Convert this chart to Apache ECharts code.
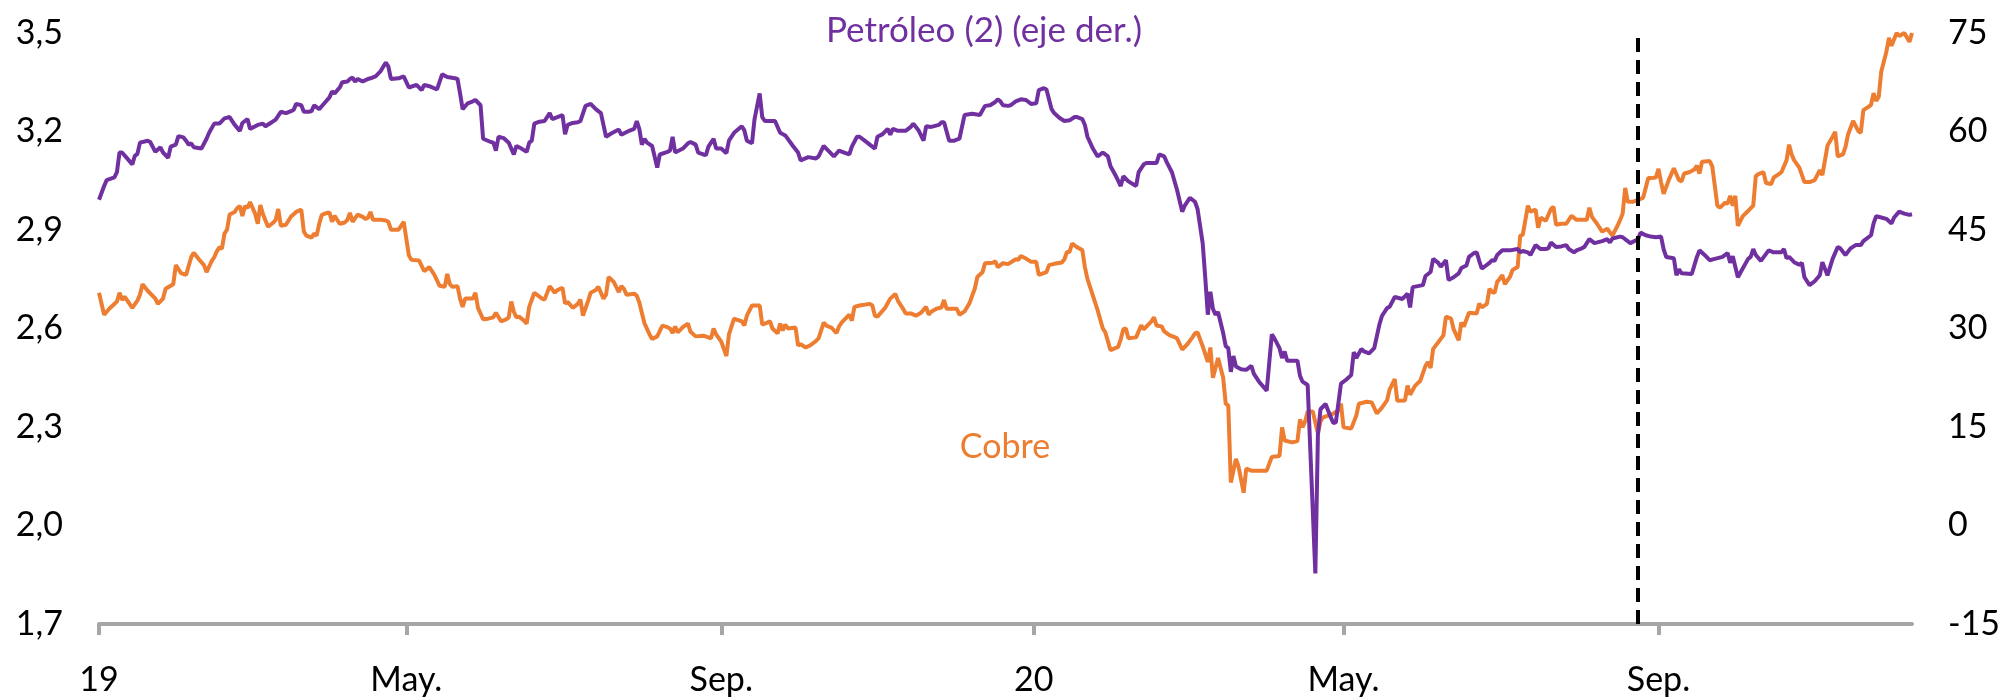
<!DOCTYPE html>
<html><head><meta charset="utf-8">
<script src="https://cdn.jsdelivr.net/npm/echarts@6/dist/echarts.min.js"></script>
<style>html,body{margin:0;padding:0;background:#fff}#c{width:2000px;height:700px}</style>
</head><body><div id="c"></div>
<script>
// ---- axis ticks / labels ----
const tickDates = ['2019-01-01','2019-05-01','2019-09-01','2020-01-01','2020-05-01','2020-09-01'];
const tickLabels = ['19','May.','Sep.','20','May.','Sep.'];
const leftTicks = [1.7, 2.0, 2.3, 2.6, 2.9, 3.2, 3.5];
const axisStart = '2019-01-01';
const axisEnd = '2020-12-09';
const markerDate = '2020-08-24';
const labelPetroleo = 'Petróleo (2) (eje der.)';
const labelCobre = 'Cobre';

// ---- Cobre (left axis) ----
const cobreDates = [
'2019-01-01','2019-01-03','2019-01-05','2019-01-08','2019-01-09','2019-01-10','2019-01-11','2019-01-14','2019-01-16','2019-01-17','2019-01-18','2019-01-20','2019-01-23','2019-01-24','2019-01-26','2019-01-27','2019-01-30','2019-01-31',
'2019-02-02','2019-02-04','2019-02-06','2019-02-07','2019-02-09','2019-02-11','2019-02-12','2019-02-14','2019-02-15','2019-02-16','2019-02-17','2019-02-18','2019-02-19','2019-02-20','2019-02-21','2019-02-23','2019-02-24','2019-02-25','2019-02-26','2019-02-27','2019-02-28',
'2019-03-01','2019-03-02','2019-03-03','2019-03-04','2019-03-05','2019-03-06','2019-03-08','2019-03-10','2019-03-11','2019-03-12','2019-03-13','2019-03-15','2019-03-17','2019-03-19','2019-03-21','2019-03-22','2019-03-23','2019-03-25','2019-03-26','2019-03-27','2019-03-28','2019-03-29','2019-03-31',
'2019-04-01','2019-04-02','2019-04-03','2019-04-05','2019-04-07','2019-04-08','2019-04-09','2019-04-10','2019-04-12','2019-04-14','2019-04-15','2019-04-16','2019-04-17','2019-04-18','2019-04-21','2019-04-23','2019-04-24','2019-04-25','2019-04-28','2019-04-30',
'2019-05-02','2019-05-03','2019-05-06','2019-05-08','2019-05-10','2019-05-12','2019-05-14','2019-05-16','2019-05-17','2019-05-18','2019-05-19','2019-05-21','2019-05-22','2019-05-23','2019-05-24','2019-05-27','2019-05-28','2019-05-29','2019-05-31',
'2019-06-02','2019-06-04','2019-06-05','2019-06-07','2019-06-09','2019-06-10','2019-06-11','2019-06-12','2019-06-13','2019-06-14','2019-06-16','2019-06-17','2019-06-18','2019-06-20','2019-06-23','2019-06-24','2019-06-26','2019-06-28','2019-06-29',
'2019-07-01','2019-07-02','2019-07-03','2019-07-05','2019-07-07','2019-07-08','2019-07-09','2019-07-11','2019-07-12','2019-07-14','2019-07-15','2019-07-17','2019-07-18','2019-07-19','2019-07-21','2019-07-23','2019-07-24','2019-07-25','2019-07-26','2019-07-29','2019-07-30','2019-07-31',
'2019-08-02','2019-08-04','2019-08-05','2019-08-07','2019-08-09','2019-08-11','2019-08-12','2019-08-13','2019-08-14','2019-08-15','2019-08-17','2019-08-19','2019-08-20','2019-08-22','2019-08-25','2019-08-28','2019-08-29','2019-08-30',
'2019-09-01','2019-09-03','2019-09-04','2019-09-06','2019-09-07','2019-09-09','2019-09-10','2019-09-11','2019-09-13','2019-09-16','2019-09-17','2019-09-19','2019-09-20','2019-09-21','2019-09-23','2019-09-24','2019-09-25','2019-09-26','2019-09-27','2019-09-30',
'2019-10-01','2019-10-02','2019-10-04','2019-10-06','2019-10-08','2019-10-09','2019-10-11','2019-10-12','2019-10-14','2019-10-16','2019-10-17','2019-10-18','2019-10-21','2019-10-22','2019-10-23','2019-10-25','2019-10-29','2019-10-30','2019-10-31',
'2019-11-01','2019-11-04','2019-11-06','2019-11-08','2019-11-09','2019-11-11','2019-11-12','2019-11-14','2019-11-16','2019-11-18','2019-11-20','2019-11-21','2019-11-22','2019-11-24','2019-11-26','2019-11-27','2019-11-28',
'2019-12-01','2019-12-02','2019-12-03','2019-12-05','2019-12-07','2019-12-08','2019-12-09','2019-12-10','2019-12-12','2019-12-13','2019-12-16','2019-12-17','2019-12-18','2019-12-20','2019-12-22','2019-12-25','2019-12-26','2019-12-27','2019-12-29','2019-12-31',
'2020-01-02','2020-01-03','2020-01-06','2020-01-07','2020-01-09','2020-01-12','2020-01-13','2020-01-14','2020-01-15','2020-01-16','2020-01-18','2020-01-20','2020-01-21','2020-01-22','2020-01-24','2020-01-26','2020-01-28','2020-01-29','2020-01-31',
'2020-02-03','2020-02-04','2020-02-05','2020-02-06','2020-02-07','2020-02-10','2020-02-12','2020-02-13','2020-02-14','2020-02-16','2020-02-17','2020-02-18','2020-02-20','2020-02-21','2020-02-23','2020-02-25','2020-02-26','2020-02-28',
'2020-03-01','2020-03-03','2020-03-04','2020-03-05','2020-03-07','2020-03-09','2020-03-10','2020-03-11','2020-03-12','2020-03-13','2020-03-15','2020-03-16','2020-03-17','2020-03-18','2020-03-20','2020-03-21','2020-03-23','2020-03-24','2020-03-26','2020-03-28','2020-03-31',
'2020-04-01','2020-04-03','2020-04-06','2020-04-07','2020-04-08','2020-04-11','2020-04-13','2020-04-14','2020-04-15','2020-04-16','2020-04-17','2020-04-19','2020-04-21','2020-04-22','2020-04-23','2020-04-25','2020-04-27','2020-04-29','2020-04-30',
'2020-05-01','2020-05-04','2020-05-06','2020-05-07','2020-05-10','2020-05-12','2020-05-14','2020-05-16','2020-05-18','2020-05-19','2020-05-21','2020-05-22','2020-05-25','2020-05-26','2020-05-27','2020-05-29','2020-05-31',
'2020-06-02','2020-06-03','2020-06-04','2020-06-05','2020-06-07','2020-06-09','2020-06-10','2020-06-12','2020-06-13','2020-06-15','2020-06-16','2020-06-17','2020-06-19','2020-06-22','2020-06-23','2020-06-24','2020-06-26','2020-06-27','2020-06-28','2020-06-29','2020-06-30',
'2020-07-01','2020-07-02','2020-07-03','2020-07-05','2020-07-06','2020-07-08','2020-07-09','2020-07-10','2020-07-12','2020-07-13','2020-07-15','2020-07-16','2020-07-17','2020-07-19','2020-07-21','2020-07-22','2020-07-23','2020-07-25','2020-07-27','2020-07-29','2020-07-31',
'2020-08-02','2020-08-04','2020-08-05','2020-08-06','2020-08-08','2020-08-10','2020-08-12','2020-08-14','2020-08-16','2020-08-17','2020-08-18','2020-08-19','2020-08-20','2020-08-22','2020-08-24','2020-08-26','2020-08-28','2020-08-29','2020-08-31',
'2020-09-01','2020-09-02','2020-09-03','2020-09-05','2020-09-07','2020-09-09','2020-09-10','2020-09-11','2020-09-13','2020-09-15','2020-09-16','2020-09-17','2020-09-18','2020-09-21','2020-09-22','2020-09-23','2020-09-24','2020-09-25','2020-09-27','2020-09-28','2020-09-29','2020-09-30',
'2020-10-01','2020-10-02','2020-10-04','2020-10-06','2020-10-08','2020-10-09','2020-10-10','2020-10-12','2020-10-13','2020-10-15','2020-10-16','2020-10-18','2020-10-19','2020-10-21','2020-10-22','2020-10-23','2020-10-24','2020-10-26','2020-10-28','2020-10-30',
'2020-11-01','2020-11-03','2020-11-04','2020-11-06','2020-11-08','2020-11-09','2020-11-10','2020-11-12','2020-11-13','2020-11-14','2020-11-16','2020-11-18','2020-11-19','2020-11-20','2020-11-22','2020-11-23','2020-11-24','2020-11-25','2020-11-26','2020-11-27','2020-11-29','2020-11-30',
'2020-12-01','2020-12-03','2020-12-04','2020-12-06','2020-12-08','2020-12-09'
];
const cobre = [
2.709,2.642,2.660,2.682,2.709,2.687,2.697,2.663,2.685,2.703,2.735,2.715,2.691,2.675,2.691,2.721,2.735,2.793,
2.769,2.763,2.817,2.831,2.811,2.793,2.772,2.805,2.817,2.835,2.847,2.843,2.889,2.901,2.947,2.955,2.967,2.973,2.943,2.973,2.967,
2.985,2.967,2.949,2.919,2.976,2.949,2.910,2.922,2.931,2.964,2.913,2.916,2.941,2.955,2.962,2.895,2.883,2.877,2.889,2.883,2.919,2.946,2.952,
2.953,2.925,2.943,2.919,2.923,2.931,2.952,2.925,2.947,2.940,2.934,2.937,2.955,2.931,2.931,2.929,2.925,2.901,2.901,2.925,
2.823,2.809,2.807,2.775,2.787,2.763,2.730,2.727,2.766,2.735,2.727,2.729,2.691,2.666,2.691,2.691,2.709,2.663,2.628,
2.630,2.634,2.648,2.622,2.628,2.634,2.682,2.651,2.634,2.636,2.624,2.615,2.666,2.709,2.691,2.688,2.729,2.709,2.717,
2.724,2.676,2.681,2.663,2.675,2.688,2.639,2.684,2.709,2.717,2.727,2.691,2.703,2.757,2.742,2.711,2.729,2.721,2.703,2.706,2.700,2.679,
2.616,2.582,2.568,2.576,2.609,2.604,2.600,2.586,2.606,2.588,2.604,2.615,2.590,2.576,2.578,2.570,2.600,2.582,
2.560,2.516,2.582,2.630,2.627,2.622,2.609,2.639,2.670,2.670,2.612,2.618,2.622,2.600,2.585,2.615,2.594,2.612,2.600,2.603,
2.548,2.552,2.542,2.550,2.562,2.570,2.618,2.609,2.603,2.586,2.606,2.618,2.642,2.624,2.666,2.670,2.675,2.670,2.639,
2.636,2.663,2.691,2.705,2.684,2.660,2.646,2.646,2.639,2.648,2.666,2.642,2.651,2.660,2.664,2.687,2.660,
2.660,2.660,2.642,2.652,2.678,2.700,2.721,2.757,2.771,2.799,2.800,2.805,2.787,2.799,2.796,2.811,2.809,2.821,2.813,2.803,
2.803,2.763,2.772,2.793,2.797,2.801,2.811,2.833,2.833,2.859,2.847,2.839,2.787,2.751,2.703,2.655,2.600,2.588,2.534,
2.544,2.567,2.598,2.600,2.570,2.573,2.610,2.597,2.606,2.622,2.634,2.609,2.606,2.591,2.580,2.574,2.570,2.536,
2.552,2.573,2.585,2.588,2.546,2.498,2.542,2.450,2.480,2.510,2.450,2.371,2.365,2.131,2.203,2.179,2.100,2.173,2.167,2.167,2.167,
2.167,2.209,2.212,2.299,2.259,2.253,2.257,2.323,2.299,2.317,2.347,2.347,2.281,2.317,2.329,2.335,2.341,2.350,2.371,
2.299,2.295,2.335,2.371,2.377,2.375,2.341,2.359,2.381,2.414,2.446,2.380,2.381,2.426,2.398,2.426,2.441,
2.486,2.498,2.480,2.538,2.558,2.579,2.636,2.630,2.598,2.564,2.618,2.606,2.648,2.646,2.676,2.664,2.675,2.721,2.711,2.709,2.742,
2.751,2.763,2.735,2.757,2.778,2.787,2.883,2.885,2.974,2.956,2.962,2.907,2.937,2.928,2.964,2.971,2.916,2.919,2.919,2.943,2.931,
2.931,2.931,2.968,2.940,2.919,2.895,2.904,2.883,2.913,2.930,2.950,3.028,2.986,2.986,2.992,2.998,3.058,3.058,3.060,
3.086,3.046,3.010,3.052,3.088,3.052,3.048,3.072,3.076,3.084,3.096,3.072,3.108,3.110,3.094,3.034,2.974,2.968,2.983,2.980,3.004,2.974,
3.004,2.913,2.943,2.958,2.974,3.064,3.070,3.076,3.043,3.040,3.060,3.070,3.076,3.112,3.160,3.130,3.112,3.090,3.046,3.046,
3.052,3.082,3.067,3.157,3.184,3.199,3.124,3.130,3.152,3.190,3.232,3.202,3.196,3.265,3.275,3.281,3.317,3.293,3.305,3.383,3.443,3.485,
3.461,3.500,3.491,3.500,3.473,3.500
];

// ---- Petróleo (right axis) ----
const petroleoDates = [
'2019-01-01','2019-01-03','2019-01-04','2019-01-07','2019-01-08','2019-01-09','2019-01-10','2019-01-12','2019-01-14','2019-01-15','2019-01-16','2019-01-17','2019-01-20','2019-01-21','2019-01-23','2019-01-25','2019-01-26','2019-01-28','2019-01-29','2019-01-31',
'2019-02-01','2019-02-03','2019-02-04','2019-02-05','2019-02-06','2019-02-07','2019-02-10','2019-02-12','2019-02-13','2019-02-15','2019-02-17','2019-02-19','2019-02-21','2019-02-23','2019-02-25','2019-02-26','2019-02-28',
'2019-03-01','2019-03-04','2019-03-06','2019-03-07','2019-03-09','2019-03-11','2019-03-13','2019-03-15','2019-03-17','2019-03-18','2019-03-19','2019-03-21','2019-03-22','2019-03-24','2019-03-25','2019-03-26','2019-03-28','2019-03-30',
'2019-04-01','2019-04-02','2019-04-03','2019-04-05','2019-04-06','2019-04-08','2019-04-09','2019-04-10','2019-04-11','2019-04-12','2019-04-14','2019-04-16','2019-04-17','2019-04-19','2019-04-21','2019-04-23','2019-04-24','2019-04-25','2019-04-28','2019-04-30',
'2019-05-02','2019-05-05','2019-05-07','2019-05-08','2019-05-10','2019-05-13','2019-05-15','2019-05-17','2019-05-20','2019-05-21','2019-05-22','2019-05-23','2019-05-25','2019-05-27','2019-05-28','2019-05-30','2019-05-31',
'2019-06-03','2019-06-04','2019-06-05','2019-06-06','2019-06-08','2019-06-10','2019-06-12','2019-06-13','2019-06-15','2019-06-17','2019-06-18','2019-06-19','2019-06-20','2019-06-22','2019-06-24','2019-06-26','2019-06-27','2019-06-29',
'2019-07-01','2019-07-02','2019-07-03','2019-07-05','2019-07-07','2019-07-08','2019-07-10','2019-07-12','2019-07-14','2019-07-16','2019-07-17','2019-07-18','2019-07-20','2019-07-23','2019-07-24','2019-07-27','2019-07-29','2019-07-30','2019-07-31',
'2019-08-01','2019-08-02','2019-08-03','2019-08-05','2019-08-07','2019-08-08','2019-08-11','2019-08-12','2019-08-13','2019-08-14','2019-08-17','2019-08-19','2019-08-20','2019-08-22','2019-08-23','2019-08-25','2019-08-26','2019-08-27','2019-08-29','2019-08-30',
'2019-09-01','2019-09-03','2019-09-04','2019-09-06','2019-09-09','2019-09-10','2019-09-11','2019-09-13','2019-09-14','2019-09-16','2019-09-17','2019-09-18','2019-09-22','2019-09-24','2019-09-26','2019-09-29',
'2019-10-01','2019-10-02','2019-10-05','2019-10-08','2019-10-09','2019-10-11','2019-10-12','2019-10-15','2019-10-17','2019-10-19','2019-10-21','2019-10-22','2019-10-24','2019-10-25','2019-10-27','2019-10-29','2019-10-31',
'2019-11-01','2019-11-03','2019-11-05','2019-11-06','2019-11-07','2019-11-09','2019-11-12','2019-11-14','2019-11-15','2019-11-17','2019-11-19','2019-11-20','2019-11-22','2019-11-25','2019-11-26','2019-11-27','2019-11-29',
'2019-12-01','2019-12-03','2019-12-05','2019-12-08','2019-12-11','2019-12-13','2019-12-15','2019-12-17','2019-12-18','2019-12-19','2019-12-20','2019-12-22','2019-12-23','2019-12-25','2019-12-27','2019-12-29','2019-12-31',
'2020-01-02','2020-01-03','2020-01-05','2020-01-06','2020-01-08','2020-01-09','2020-01-11','2020-01-13','2020-01-15','2020-01-17','2020-01-18','2020-01-20','2020-01-21','2020-01-22','2020-01-24','2020-01-26','2020-01-28','2020-01-30','2020-01-31',
'2020-02-02','2020-02-04','2020-02-05','2020-02-07','2020-02-10','2020-02-11','2020-02-13','2020-02-14','2020-02-18','2020-02-19','2020-02-21','2020-02-22','2020-02-24','2020-02-26','2020-02-28','2020-02-29',
'2020-03-02','2020-03-04','2020-03-05','2020-03-07','2020-03-08','2020-03-09','2020-03-10','2020-03-11','2020-03-12','2020-03-13','2020-03-14','2020-03-15','2020-03-16','2020-03-17','2020-03-18','2020-03-19','2020-03-20','2020-03-22','2020-03-24','2020-03-26','2020-03-27','2020-03-29','2020-03-31',
'2020-04-01','2020-04-03','2020-04-04','2020-04-06','2020-04-07','2020-04-08','2020-04-09','2020-04-11','2020-04-13','2020-04-14','2020-04-15','2020-04-17','2020-04-20','2020-04-21','2020-04-22','2020-04-24','2020-04-26','2020-04-27','2020-04-28','2020-04-30',
'2020-05-02','2020-05-04','2020-05-05','2020-05-06','2020-05-08','2020-05-09','2020-05-11','2020-05-13','2020-05-15','2020-05-16','2020-05-18','2020-05-19','2020-05-21','2020-05-24','2020-05-26','2020-05-27','2020-05-28',
'2020-06-01','2020-06-02','2020-06-04','2020-06-05','2020-06-07','2020-06-08','2020-06-10','2020-06-11','2020-06-13','2020-06-15','2020-06-16','2020-06-18','2020-06-19','2020-06-21','2020-06-22','2020-06-23','2020-06-24','2020-06-25','2020-06-27','2020-06-28','2020-06-29','2020-06-30',
'2020-07-02','2020-07-05','2020-07-08','2020-07-09','2020-07-10','2020-07-12','2020-07-13','2020-07-15','2020-07-17','2020-07-19','2020-07-20','2020-07-21','2020-07-23','2020-07-25','2020-07-27','2020-07-28','2020-07-30','2020-07-31',
'2020-08-02','2020-08-03','2020-08-05','2020-08-07','2020-08-10','2020-08-12','2020-08-13','2020-08-14','2020-08-17','2020-08-18','2020-08-21','2020-08-24','2020-08-25','2020-08-27','2020-08-29','2020-08-31',
'2020-09-02','2020-09-03','2020-09-04','2020-09-07','2020-09-08','2020-09-09','2020-09-10','2020-09-14','2020-09-16','2020-09-17','2020-09-19','2020-09-21','2020-09-23','2020-09-26','2020-09-28','2020-09-29','2020-09-30',
'2020-10-02','2020-10-04','2020-10-06','2020-10-07','2020-10-08','2020-10-09','2020-10-11','2020-10-14','2020-10-16','2020-10-19','2020-10-20','2020-10-21','2020-10-22','2020-10-24','2020-10-26','2020-10-27','2020-10-28','2020-10-30',
'2020-11-01','2020-11-03','2020-11-04','2020-11-06','2020-11-08','2020-11-10','2020-11-11','2020-11-13','2020-11-15','2020-11-17','2020-11-19','2020-11-20','2020-11-23','2020-11-24','2020-11-25','2020-11-27','2020-11-29',
'2020-12-01','2020-12-02','2020-12-04','2020-12-06','2020-12-08','2020-12-09'
];
const petroleo = [
49.6,51.7,52.6,53.0,53.8,56.8,56.8,55.9,55.0,56.3,56.6,58.3,58.6,58.4,56.9,57.6,56.8,56.0,57.7,58.0,
59.3,59.1,58.6,58.0,58.2,57.6,57.4,58.9,59.8,61.2,61.2,62.0,62.2,61.0,60.1,61.3,61.9,
60.4,61.0,61.2,60.8,61.3,61.8,63.0,62.8,63.1,63.3,64.2,64.0,63.0,63.0,63.1,64.0,63.4,64.3,
65.2,66.1,65.8,66.7,67.5,67.6,68.0,68.2,67.6,68.0,67.6,68.0,68.1,68.4,69.2,70.5,69.9,68.0,68.1,68.4,
66.7,67.1,66.3,67.1,66.9,66.4,68.7,68.3,68.1,68.0,65.8,63.4,64.3,64.6,64.8,64.0,58.9,
58.4,58.3,57.1,59.2,59.0,58.3,56.5,57.8,57.4,56.9,58.3,58.6,61.2,61.5,61.6,62.8,61.9,62.2,
62.5,59.6,61.0,61.3,61.4,61.6,63.9,64.2,63.4,62.8,61.0,59.2,59.7,60.3,59.5,60.1,60.4,61.6,60.4,
58.0,58.9,58.3,57.8,54.5,56.5,56.9,57.1,59.2,56.8,57.4,58.2,58.4,58.0,56.8,56.5,56.4,57.7,58.9,57.4,
57.4,56.7,58.6,59.8,60.8,60.2,58.6,58.2,61.9,65.8,62.2,61.6,61.6,59.8,59.4,57.8,
56.8,55.6,56.1,55.9,56.2,57.8,57.4,56.2,57.1,56.8,56.5,57.7,59.2,59.2,58.6,58.0,57.4,
59.2,59.6,60.4,59.5,60.4,60.1,60.1,60.7,61.2,60.2,58.6,60.8,60.7,61.0,61.4,61.4,58.6,
58.6,58.9,62.5,62.7,62.5,63.9,64.0,64.5,64.9,64.6,64.0,63.9,64.0,64.6,64.9,64.8,64.2,
64.3,66.3,66.6,66.4,63.4,62.8,62.1,61.6,61.7,62.2,62.2,61.9,61.0,59.2,57.5,56.2,56.8,56.2,54.7,
53.3,51.7,53.2,52.4,51.7,53.8,55.0,55.2,55.2,56.5,56.2,55.3,53.8,51.1,47.8,48.7,
49.9,49.3,48.2,43.0,37.8,32.1,35.6,33.0,32.1,32.5,30.9,29.3,27.3,27.0,23.4,25.8,24.2,23.8,23.7,24.3,23.1,21.9,21.0,
20.5,29.1,28.5,27.0,25.5,26.5,25.1,25.1,25.1,22.8,21.9,21.4,-7.3,13.8,17.7,18.5,16.5,15.6,15.7,21.6,
22.2,22.9,26.4,25.5,26.9,26.5,26.2,27.0,30.6,31.9,33.1,33.3,34.8,34.5,35.3,33.2,36.3,
36.6,38.0,38.6,40.6,40.0,39.4,40.4,37.4,37.8,38.4,39.2,39.6,40.9,41.5,41.6,40.3,39.1,39.4,40.0,40.4,40.3,41.2,
41.9,41.9,42.1,41.6,41.8,41.6,41.2,42.7,42.1,42.1,42.2,43.1,42.4,42.5,42.7,42.1,41.6,41.9,
42.2,42.4,43.6,43.0,43.3,43.6,43.1,43.7,44.0,43.9,43.0,43.6,44.6,44.2,44.0,43.9,
44.0,42.1,40.9,40.7,38.1,39.0,38.4,38.3,40.9,41.9,41.2,40.4,40.6,40.9,41.5,40.0,41.0,
37.8,39.2,40.6,40.9,42.1,41.2,40.3,41.9,41.6,41.6,42.1,40.7,40.9,40.1,39.7,40.0,37.8,36.6,
37.2,38.1,40.1,38.1,40.6,42.4,42.2,41.2,42.2,42.7,42.7,43.3,44.2,46.0,47.1,46.9,46.7,
46.0,46.9,47.8,47.5,47.3,47.4
];

// ---- build chart ----
const FONT = 'Lato';
// daily category axis from axisStart to axisEnd
const pad = n => (n < 10 ? '0' : '') + n;
const days = [];
{
  const [ys, ms, ds] = axisStart.split('-').map(Number);
  const [ye, me, de] = axisEnd.split('-').map(Number);
  let t = Date.UTC(ys, ms - 1, ds);
  const tEnd = Date.UTC(ye, me - 1, de);
  while (t <= tEnd) {
    const d = new Date(t);
    days.push(d.getUTCFullYear() + '-' + pad(d.getUTCMonth() + 1) + '-' + pad(d.getUTCDate()));
    t += 86400000;
  }
}
const isTick = (idx, val) => tickDates.indexOf(val) >= 0;
const pairs = (ds, vs) => ds.map((d, i) => [d, vs[i]]);

const chart = echarts.init(document.getElementById('c'), null, {renderer: 'canvas'});
chart.setOption({
  animation: false,
  backgroundColor: '#ffffff',
  grid: {left: 99, right: 88, top: 33, bottom: 76, containLabel: false, outerBoundsMode: 'none'},
  xAxis: {
    type: 'category',
    data: days,
    boundaryGap: false,
    axisLine: {show: true, onZero: false, lineStyle: {color: '#A6A6A6', width: 4}},
    axisTick: {show: true, interval: isTick, length: 11, lineStyle: {color: '#A6A6A6', width: 4}},
    axisLabel: {
      interval: isTick,
      formatter: v => { const i = tickDates.indexOf(v); return i >= 0 ? tickLabels[i] : ''; },
      fontFamily: FONT, fontSize: 34, color: '#000', margin: 39
    },
    splitLine: {show: false}
  },
  yAxis: [
    {
      type: 'value', min: 1.7, max: 3.5, position: 'left',
      axisLine: {show: false}, axisTick: {show: false}, splitLine: {show: false},
      axisLabel: {
        customValues: leftTicks,
        formatter: v => v.toFixed(1).replace('.', ','),
        fontFamily: FONT, fontSize: 34, color: '#000', margin: 36
      }
    },
    {
      type: 'value', min: -15, max: 75, interval: 15, position: 'right',
      axisLine: {show: false}, axisTick: {show: false}, splitLine: {show: false},
      axisLabel: {
        formatter: v => String(v),
        fontFamily: FONT, fontSize: 34, color: '#000', margin: 36
      }
    }
  ],
  series: [
    {
      name: labelCobre, type: 'line', yAxisIndex: 0,
      data: pairs(cobreDates, cobre),
      showSymbol: false, symbol: 'none',
      lineStyle: {color: '#ED7D31', width: 4}, itemStyle: {color: '#ED7D31'}
    },
    {
      name: labelPetroleo, type: 'line', yAxisIndex: 1,
      data: pairs(petroleoDates, petroleo),
      showSymbol: false, symbol: 'none',
      lineStyle: {color: '#7030A0', width: 4}, itemStyle: {color: '#7030A0'},
      markLine: {
        silent: true, symbol: ['none', 'none'], animation: false,
        label: {show: false},
        lineStyle: {color: '#000', width: 4, type: [14, 8]},
        data: [{xAxis: markerDate}]
      }
    }
  ],
  graphic: [
    {type: 'text', x: 984, y: 31, z: 10,
     style: {text: labelPetroleo, fill: '#7030A0', fontFamily: FONT, fontSize: 35, align: 'center', verticalAlign: 'middle'}},
    {type: 'text', x: 1005, y: 447, z: 10,
     style: {text: labelCobre, fill: '#ED7D31', fontFamily: FONT, fontSize: 34, align: 'center', verticalAlign: 'middle'}}
  ]
});
</script>
</body></html>
